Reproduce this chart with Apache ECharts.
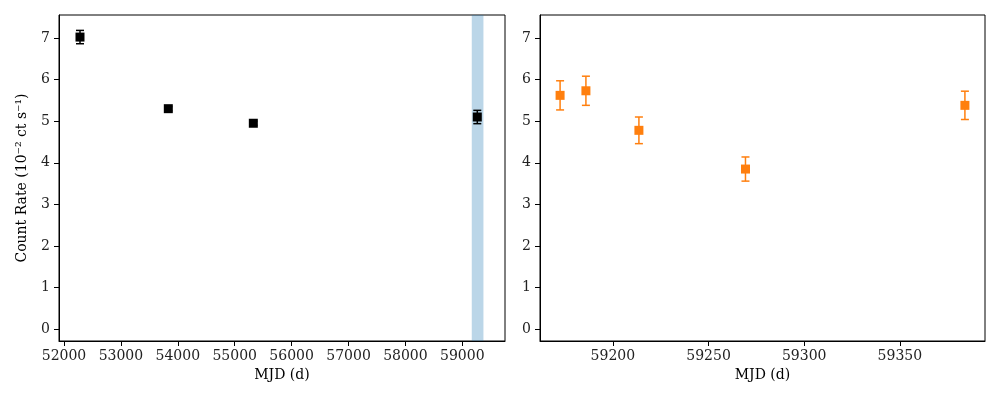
<!DOCTYPE html>
<html>
<head>
<meta charset="utf-8">
<script src="https://cdn.jsdelivr.net/npm/echarts@6/dist/echarts.min.js"></script>
<style>
html, body { margin: 0; padding: 0; background: #fff; }
#chart { width: 1000px; height: 400px; }
</style>
</head>
<body>
<div id="chart"></div>
<script>
// left panel: long-term light curve
const mjdA = [52281, 53833, 55327, 59263];
const rateA = [7.02, 5.30, 4.95, 5.10];
const errA = [0.16, 0.05, 0.05, 0.16];
// right panel: zoom on the shaded window
const mjdB = [59172.4, 59185.9, 59213.6, 59269.3, 59384.0];
const rateB = [5.62, 5.73, 4.78, 3.85, 5.38];
const errB = [0.35, 0.35, 0.32, 0.29, 0.34];
const bandMJD = [59166, 59371];

const yTicks = [0, 1, 2, 3, 4, 5, 6, 7];
const xTicksA = [52000, 53000, 54000, 55000, 56000, 57000, 58000, 59000];
const xTicksB = [59200, 59250, 59300, 59350];

const font = 'DejaVu Serif';

const toPts = (xs, ys, es) => xs.map((x, i) => [x, ys[i], ys[i] - es[i], ys[i] + es[i]]);

// vertical error bar with caps
const errRender = (color, lw) => (params, api) => {
  const top = api.coord([api.value(0), api.value(3)]);
  const bot = api.coord([api.value(0), api.value(2)]);
  const c = 4;
  const st = { stroke: color, lineWidth: lw };
  return {
    type: 'group',
    children: [
      { type: 'line', shape: { x1: top[0], y1: top[1], x2: bot[0], y2: bot[1] }, style: st },
      { type: 'line', shape: { x1: top[0] - c, y1: top[1], x2: top[0] + c, y2: top[1] }, style: st },
      { type: 'line', shape: { x1: bot[0] - c, y1: bot[1], x2: bot[0] + c, y2: bot[1] }, style: st }
    ]
  };
};

const xAxisBase = (idx, min, max, ticks) => ({
  type: 'value', gridIndex: idx, min: min, max: max,
  name: 'MJD (d)', nameLocation: 'middle', nameGap: 27,
  nameTextStyle: { fontFamily: font, fontSize: 14, color: '#000' },
  axisLine: { show: true, onZero: false, lineStyle: { color: '#000', width: 1 } },
  axisTick: { show: true, inside: false, length: 5, customValues: ticks, lineStyle: { color: '#000', width: 1 } },
  axisLabel: { customValues: ticks, margin: 8, fontFamily: font, fontSize: 14, color: '#222', formatter: v => String(v) },
  splitLine: { show: false }
});

const yAxisBase = (idx, name) => ({
  type: 'value', gridIndex: idx, min: -0.28, max: 7.55,
  name: name, nameLocation: 'middle', nameGap: 30,
  nameTextStyle: { fontFamily: font, fontSize: 14, color: '#000' },
  axisLine: { show: true, lineStyle: { color: '#000', width: 1 } },
  axisTick: { show: true, inside: false, length: 5, customValues: yTicks, lineStyle: { color: '#000', width: 1 } },
  axisLabel: { customValues: yTicks, margin: 9, fontFamily: font, fontSize: 14, color: '#222' },
  splitLine: { show: false }
});

const chart = echarts.init(document.getElementById('chart'));
const option = {
  animation: false,
  backgroundColor: '#fff',
  grid: [
    { left: 59, top: 15, width: 446, height: 326, show: true, borderColor: '#000', borderWidth: 1, backgroundColor: 'transparent' },
    { left: 540, top: 15, width: 445, height: 326, show: true, borderColor: '#000', borderWidth: 1, backgroundColor: 'transparent' }
  ],
  xAxis: [
    xAxisBase(0, 51912, 59750, xTicksA),
    xAxisBase(1, 59161.9, 59394.5, xTicksB)
  ],
  yAxis: [
    yAxisBase(0, 'Count Rate (10\u207B\u00B2 ct s\u207B\u00B9)'),
    yAxisBase(1, '')
  ],
  series: [
    {
      type: 'scatter', xAxisIndex: 0, yAxisIndex: 0,
      data: [],
      markArea: {
        silent: true,
        itemStyle: { color: 'rgba(31,119,180,0.3)' },
        data: [[{ xAxis: bandMJD[0] }, { xAxis: bandMJD[1] }]]
      }
    },
    {
      type: 'custom', xAxisIndex: 0, yAxisIndex: 0, clip: true,
      renderItem: errRender('#000', 1.5),
      encode: { x: 0, y: [1, 2, 3] },
      data: toPts(mjdA, rateA, errA), z: 3
    },
    {
      type: 'scatter', xAxisIndex: 0, yAxisIndex: 0,
      symbol: 'rect', symbolSize: 9,
      itemStyle: { color: '#000', opacity: 1 },
      data: mjdA.map((x, i) => [x, rateA[i]]), z: 4
    },
    {
      type: 'custom', xAxisIndex: 1, yAxisIndex: 1, clip: true,
      renderItem: errRender('#ff7f0e', 1.5),
      encode: { x: 0, y: [1, 2, 3] },
      data: toPts(mjdB, rateB, errB), z: 3
    },
    {
      type: 'scatter', xAxisIndex: 1, yAxisIndex: 1,
      symbol: 'rect', symbolSize: 9,
      itemStyle: { color: '#ff7f0e', opacity: 1 },
      data: mjdB.map((x, i) => [x, rateB[i]]), z: 4
    }
  ]
};
chart.setOption(option);
</script>
</body>
</html>
